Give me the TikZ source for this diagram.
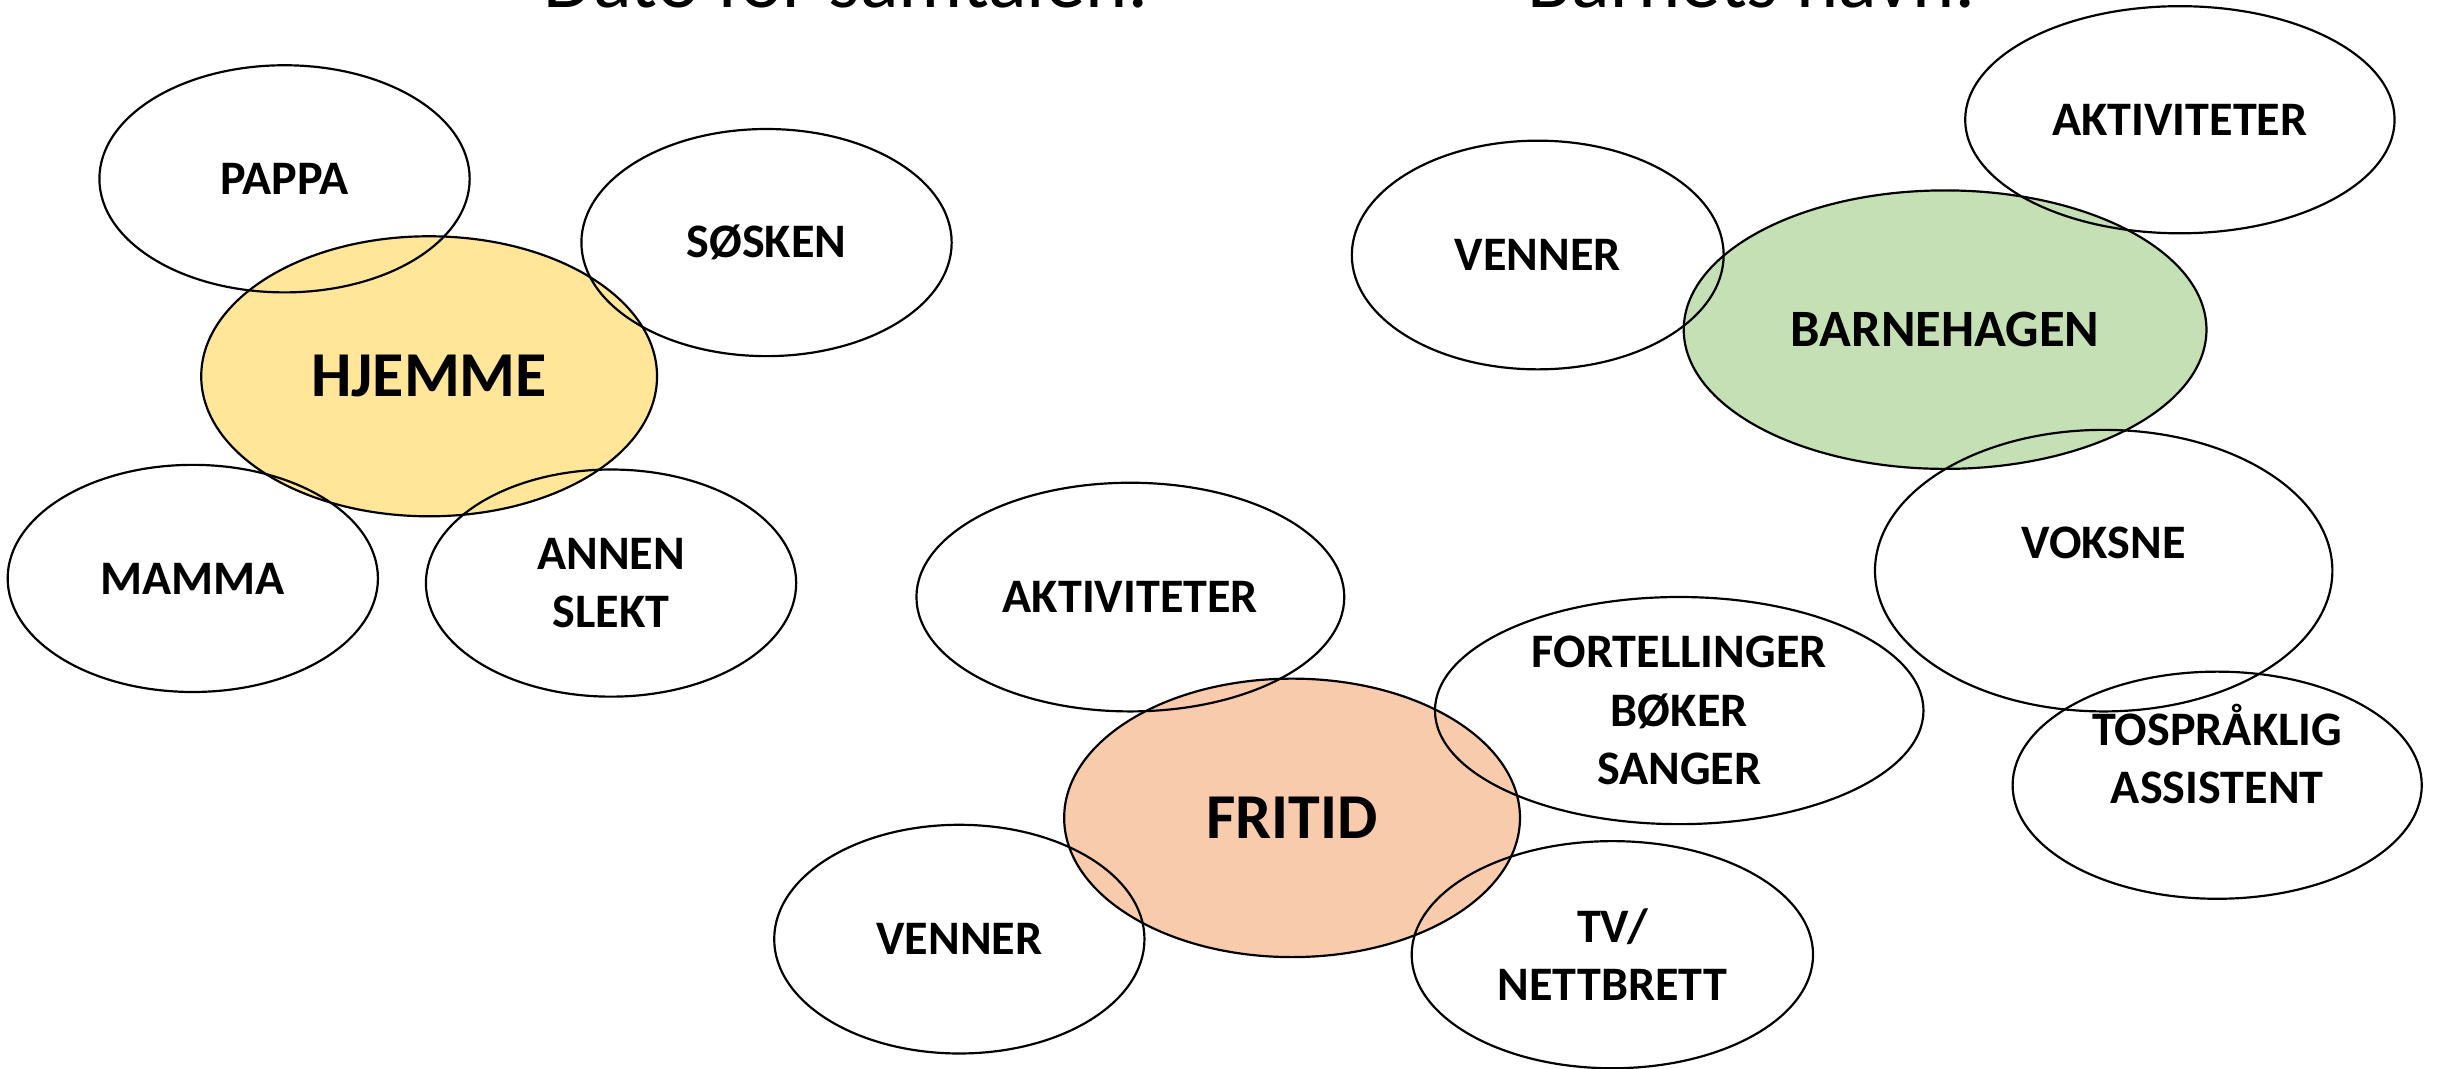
\documentclass[tikz,border=0pt]{standalone}
\usepackage{fontspec}
\setmainfont{Carlito}
\usepackage{xcolor}
\usetikzlibrary{shapes.geometric}

\definecolor{hjemgul}{HTML}{FFE699}
\definecolor{fritidrosa}{HTML}{F8CBAD}
\definecolor{hagegronn}{HTML}{C5E0B4}

\tikzset{
  bubble/.style={ellipse, draw, line width=0.4pt, inner sep=0pt,
    minimum width=2.38cm, minimum height=1.46cm, align=center,
    font=\bfseries\fontsize{8.8}{10.7}\selectfont},
  hub/.style={bubble, minimum width=2.93cm, minimum height=1.8cm,
    font=\bfseries\fontsize{11.7}{13}\selectfont},
  lbl/.style={align=center, inner sep=0pt, font=\bfseries\fontsize{8.8}{10.7}\selectfont},
  heading/.style={anchor=base west, inner sep=0pt, font=\fontsize{14.7}{17}\selectfont}
}

\begin{document}
\begin{tikzpicture}[x=0.01cm, y=-0.01cm]
\useasboundingbox (0,0) rectangle (1568,687);
%headings
\node[heading] (dato) at (349,4.5) {Dato for samtalen:};
\node[heading] (navn) at (982,4.5) {Barnets navn:};
%hubs
\node[hub, fill=hjemgul] (hjemme) at (276,242) {HJEMME};
\node[hub, fill=fritidrosa, minimum height=1.79cm] (fritid) at (831,526) {FRITID};
\node[hub, fill=hagegronn, minimum width=3.36cm, minimum height=1.79cm,
  font=\bfseries\fontsize{9.6}{12}\selectfont] (barnehagen) at (1251,212) {BARNEHAGEN};
%hjemme
\node[bubble] (pappa) at (183,115) {PAPPA};
\node[bubble] (sosken) at (493,156) {SØSKEN};
\node[bubble] (mamma) at (124,372) {MAMMA};
\node[bubble] (slekt) at (393,375) {ANNEN\\SLEKT};
%fritid
\node[bubble, minimum width=2.75cm, minimum height=1.47cm] (aktfri) at (727,384) {AKTIVITETER};
\node[bubble, minimum height=1.47cm] (vennfri) at (617,604) {VENNER};
\node[bubble, minimum width=3.14cm] (fortell) at (1080,457) {FORTELLINGER\\BØKER\\SANGER};
\node[bubble, minimum width=2.58cm] (tv) at (1037,614) {TV/\\NETTBRETT};
%barnehagen
\node[bubble, minimum width=2.39cm, minimum height=1.47cm] (vennhage) at (989,164) {VENNER};
\node[bubble, minimum width=2.76cm] (akthage) at (1402,77) {AKTIVITETER};
\node[bubble, minimum width=2.94cm, minimum height=1.81cm] (voksne) at (1353,367) {};
\node[lbl] (voksnetxt) at ([yshift=0.18cm]voksne.center) {VOKSNE};
\node[bubble, minimum width=2.63cm] (tospraak) at (1426,505) {};
\node[lbl] (tospraaktxt) at ([yshift=0.2cm]tospraak.center) {TOSPRÅKLIG\\ASSISTENT};
\end{tikzpicture}
\end{document}
